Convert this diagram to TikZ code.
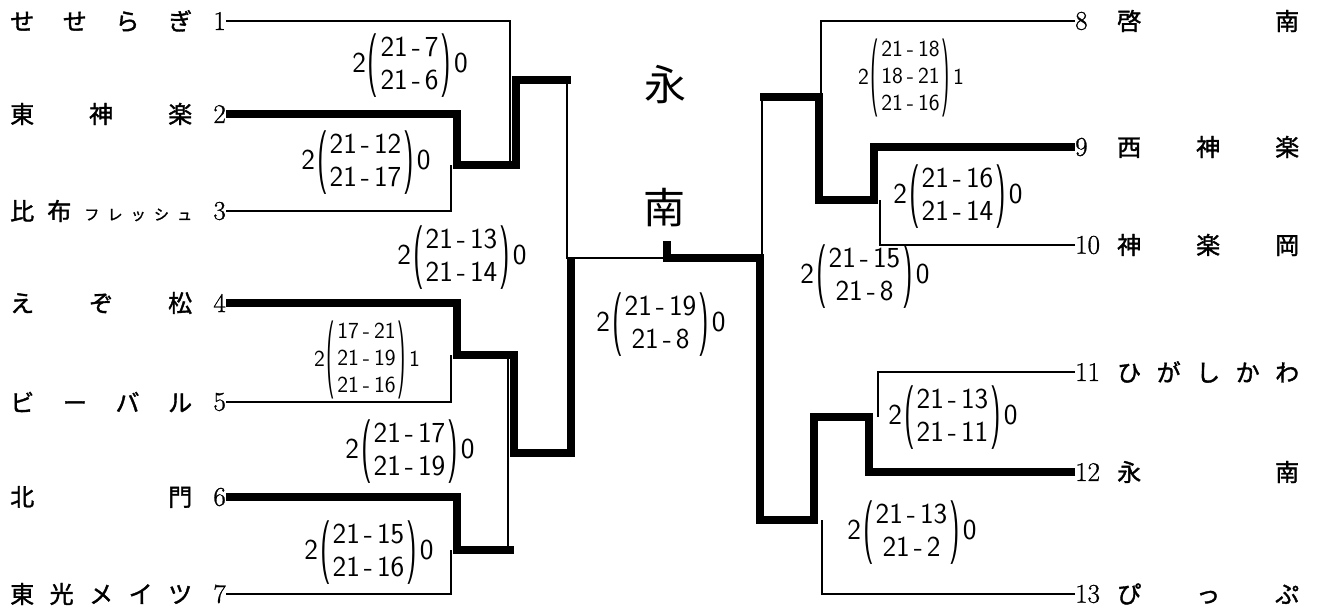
\documentclass[tikz,border=0pt]{standalone}
\usepackage{graphicx}
\usepackage{fontspec}
\newfontfamily\jp{Noto Sans CJK JP}[FakeBold=1.5]
\newfontfamily\jplight{Noto Sans CJK JP}
\newfontfamily\seedfont{Latin Modern Roman}[FakeBold=1]
\usetikzlibrary{positioning}

\newcommand{\spreadname}[1]{\makebox[182pt][s]{#1}}
\newcommand{\dash}{\hspace{4pt}-\hspace{4pt}}
\newcommand{\paren}[2]{\vcenter{\hbox{\scalebox{1}[#1]{#2}}}}
\newcommand{\score}[4][2.2]{#2\hspace{2pt}$\paren{#1}{(}\begin{tabular}{@{\hspace{2pt}}c@{\hspace{2pt}}}#3\end{tabular}\paren{#1}{)}$\hspace{3pt}#4}

\tikzset{
  win/.style={line width=8pt, line join=miter},
  lose/.style={line width=1.8pt, line join=miter},
  team/.style={font=\jp\fontsize{24}{24}\selectfont, inner sep=0pt, anchor=west},
  seed/.style={font=\seedfont\fontsize{27}{27}\selectfont, inner sep=0pt},
  res/.style={font=\sffamily\fontsize{29}{33}\selectfont, inner sep=0pt},
  res3/.style={font=\sffamily\fontsize{23}{27}\selectfont, inner sep=0pt},
  champ/.style={font=\jplight\fontsize{42}{42}\selectfont, inner sep=0pt},
}

\begin{document}
\begin{tikzpicture}[x=1pt, y=-1pt]
\useasboundingbox (0,0) rectangle (1325,609);

% === teams, left block ===
\foreach \i/\y/\name in {1/21/{せ せ ら ぎ}, 2/114/{東 神 楽},
    3/211/{比 布 {\fontsize{15}{15}\selectfont フ レ ッ シ ュ}},
    4/303/{え ぞ 松}, 5/402/{ビ ー バ ル}, 6/497/{北 門}, 7/594/{東 光 メ イ ツ}} {
  \node[seed, anchor=east] (sd\i) at (226,\y) {\i};
  \node[team] (tm\i) at (10,\y) {\spreadname{\name}};
}

% === teams, right block ===
\foreach \i/\y/\name in {8/21/{啓 南}, 9/147/{西 神 楽}, 10/245/{神 楽 岡},
    11/372/{ひ が し か わ}, 12/472/{永 南}, 13/594/{ぴ っ ぷ}} {
  \node[seed, anchor=west] (sd\i) at (1075,\y) {\i};
  \node[team] (tm\i) at (1117,\y) {\spreadname{\name}};
}

% junctions
\coordinate (c1) at (510,165);
\coordinate (c2) at (457,165);
\coordinate (c3) at (451,165);
\coordinate (b2) at (516,165);
\coordinate (s1) at (571,80);
\coordinate (t1) at (567,80);
\coordinate (c4) at (457,355);
\coordinate (c5) at (451,355);
\coordinate (b4) at (514,355);
\coordinate (d4) at (508,355);
\coordinate (e4) at (571,453);
\coordinate (f4) at (571,258);
\coordinate (c6) at (457,550);
\coordinate (c7) at (451,550);
\coordinate (b6) at (514,550);
\coordinate (d6) at (508,550);

\coordinate (c8) at (821,97);
\coordinate (c9) at (874,200);
\coordinate (c10) at (880,200);
\coordinate (b9) at (819,200);
\coordinate (s9) at (760,97);
\coordinate (t9) at (762,97);
\coordinate (u9) at (762,258);
\coordinate (c11) at (878,417);
\coordinate (c12) at (869,417);
\coordinate (b12) at (814,417);
\coordinate (e12) at (760,520);
\coordinate (f12) at (760,258);
\coordinate (c13) at (822,520);
\coordinate (flag) at (667,258);
\coordinate (flagtop) at (667,241);

% === left bracket ===
\draw[lose] (sd1.east) -| (c1);
\draw[lose] (sd3.east) -| (c3);
\draw[win] (sd2.east) -| (c2) -- (b2) |- (s1);
\draw[lose] (t1) |- (flag);
\draw[lose] (sd5.east) -| (c5);
\draw[win] (sd4.east) -| (c4) -- (b4) |- (e4) -- (f4);
\draw[lose] (sd7.east) -| (c7);
\draw[win] (sd6.east) -| (c6) -- (b6);
\draw[lose] (d4) -- (d6);

% === right bracket ===
\draw[lose] (sd8.west) -| (c8);
\draw[lose] (sd10.west) -| (c10);
\draw[win] (sd9.west) -| (c9) -- (b9) |- (s9);
\draw[lose] (t9) -- (u9);
\draw[lose] (sd11.west) -| (c11);
\draw[lose] (sd13.west) -| (c13);
\draw[win] (sd12.west) -| (c12) -- (b12) |- (e12) -- (f12) -- (flag) -- (flagtop);

% champion
\node[champ] (ch1) at (665,85) {永};
\node[champ] (ch2) at (664,208) {南};

% === scores ===
\node[res] (g1) at (410,66) {\score{2}{21\dash 7\\21\dash 6}{0}};
\node[res] (g23) at (366,163) {\score{2}{21\dash 12\\21\dash 17}{0}};
\node[res] (gL) at (462,258) {\score{2}{21\dash 13\\21\dash 14}{0}};
\node[res3] (g45) at (367,360) {\score[3.4]{2}{17\dash 21\\21\dash 19\\21\dash 16}{1}};
\node[res] (gE) at (410,452) {\score{2}{21\dash 17\\21\dash 19}{0}};
\node[res] (g67) at (369,553) {\score{2}{21\dash 15\\21\dash 16}{0}};
\node[res] (gF) at (661,325) {\score{2}{21\dash 19\\21\dash 8}{0}};
\node[res3] (g8) at (911,78) {\score[3.4]{2}{21\dash 18\\18\dash 21\\21\dash 16}{1}};
\node[res] (g910) at (958,197) {\score{2}{21\dash 16\\21\dash 14}{0}};
\node[res] (gR) at (865,277) {\score{2}{21\dash 15\\21\dash 8}{0}};
\node[res] (g1112) at (953,418) {\score{2}{21\dash 13\\21\dash 11}{0}};
\node[res] (g13) at (912,533) {\score{2}{21\dash 13\\21\dash 2}{0}};

\end{tikzpicture}
\end{document}
